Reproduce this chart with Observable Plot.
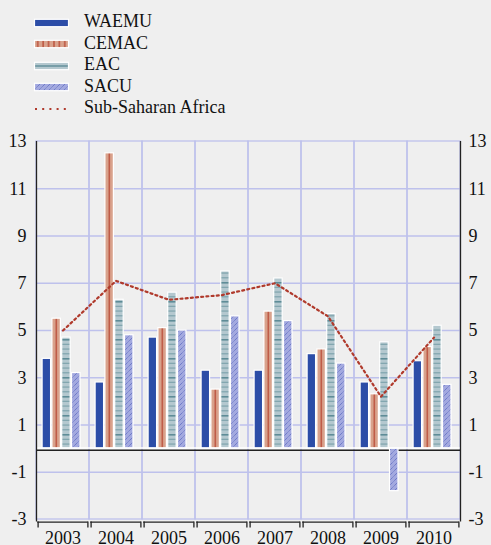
<!DOCTYPE html>
<html><head><meta charset="utf-8">
<script src="https://cdn.jsdelivr.net/npm/d3@7"></script>
<script src="https://cdn.jsdelivr.net/npm/@observablehq/plot@0.6"></script>
<style>
body{margin:0;background:#efefef;font-family:"Liberation Serif","Times New Roman",serif;}
#wrap{position:relative;width:491px;height:545px;overflow:hidden;background:#efefef}
#legend{position:absolute;left:0;top:0;width:491px;height:130px}
#legend svg{position:absolute;left:33px}
#legend span{position:absolute;left:84px;font-size:18px;line-height:20px;color:#111;white-space:nowrap}
#chart{position:absolute;left:0;top:130px}
</style></head><body>
<div id="wrap"><div id="legend"></div><div id="chart"></div></div>
<script>
// ---- data ----
const years = ["2003","2004","2005","2006","2007","2008","2009","2010"];
const waemu = [3.8, 2.8, 4.7, 3.3, 3.3, 4.0, 2.8, 3.7];
const cemac = [5.5, 12.5, 5.1, 2.5, 5.8, 4.2, 2.3, 4.3];
const eac   = [4.7, 6.3, 6.6, 7.5, 7.2, 5.7, 4.5, 5.2];
const sacu  = [3.2, 4.8, 5.0, 5.6, 5.4, 3.6, -1.8, 2.7];
const ssa   = [5.0, 7.1, 6.3, 6.5, 7.0, 5.6, 2.2, 4.7];
const seriesNames = ["WAEMU", "CEMAC", "EAC", "SACU"];
const lineName = "Sub-Saharan Africa";
const yTicks = [-3, -1, 1, 3, 5, 7, 9, 11, 13];

// ---- styles ----
const grid = "#BEC1EC";
const axisColor = "#222";
const lineColor = "#B03A2C";
const fills = {WAEMU: "#2C4DA7", CEMAC: "url(#p-cemac)", EAC: "url(#p-eac)", SACU: "url(#p-sacu)"};

const valuesBySeries = {WAEMU: waemu, CEMAC: cemac, EAC: eac, SACU: sacu};
const rows = [];
years.forEach((yr, i) => seriesNames.forEach(s => rows.push({year: yr, series: s, value: valuesBySeries[s][i]})));
const lineRows = years.map((yr, i) => ({year: yr, value: ssa[i]}));

const W = 491, H = 415, ml = 36, mr = 31, mt = 11, mb = 26;
const bw = (W - ml - mr) / years.length;
const barW = bw * 0.16, step = bw * 0.185, off0 = bw * 0.115;

const barMarks = seriesNames.map((name, i) => Plot.barY(rows.filter(r => r.series === name), {
  x: "year", y: "value", fill: fills[name], stroke: "white", strokeWidth: 1.2,
  insetLeft: off0 + i * step, insetRight: bw - (off0 + i * step + barW)
}));

const plot = Plot.plot({
  width: W, height: H,
  marginLeft: ml, marginRight: mr, marginTop: mt, marginBottom: mb,
  x: {domain: years, padding: 0},
  y: {domain: [-3, 13]},
  style: {background: "transparent", fontFamily: "'Liberation Serif', 'Times New Roman', serif", fontSize: "18px", color: "#111", overflow: "visible"},
  marks: [
    Plot.barY(years, {x: d => d, y1: -3, y2: 13, fill: "none", stroke: grid, strokeWidth: 1.3}),
    Plot.ruleY(yTicks.filter(t => t > -3 && t < 13), {stroke: grid, strokeWidth: 1.3}),
    Plot.ruleY([0], {stroke: axisColor, strokeWidth: 1.4, dy: 1.6}),
    ...barMarks,
    Plot.ruleY([0], {stroke: "white", strokeWidth: 1.4, dy: -0.6}),
    Plot.line(lineRows, {x: "year", y: "value", stroke: lineColor, strokeWidth: 2.2, strokeDasharray: "2 3.2"}),
    // frame axes
    Plot.ruleX([years[0]], {x: d => d, y1: 13, y2: -3.11, dx: -bw / 2, stroke: axisColor, strokeWidth: 1.3}),
    Plot.ruleX([years[years.length - 1]], {x: d => d, y1: 13, y2: -3.11, dx: bw / 2, stroke: axisColor, strokeWidth: 1.3}),
    Plot.tickY(years, {x: d => d, y: -3, dy: 2.6, insetLeft: 1.2, insetRight: 1.2, stroke: axisColor, strokeWidth: 1.3}),
    Plot.ruleX(years, {x: d => d, y1: -3.11, y2: -3.36, dx: -bw / 2 + 1.6, stroke: axisColor, strokeWidth: 1.3}),
    Plot.ruleX(years, {x: d => d, y1: -3.11, y2: -3.36, dx: bw / 2 - 1.6, stroke: axisColor, strokeWidth: 1.3}),
    Plot.axisY({anchor: "left", ticks: yTicks, tickSize: 0, tickPadding: 10, tickFormat: d => String(d), label: null}),
    Plot.axisY({anchor: "right", ticks: yTicks, tickSize: 0, tickPadding: 8, tickFormat: d => String(d), label: null}),
    Plot.axisX({tickSize: 0, tickPadding: 12, label: null})
  ]
});

// patterns
const defs = d3.select(plot).insert("defs", ":first-child");
const pc = defs.append("pattern").attr("id", "p-cemac").attr("patternUnits", "objectBoundingBox")
  .attr("patternContentUnits", "objectBoundingBox").attr("width", 1).attr("height", 1);
pc.append("rect").attr("width", 1).attr("height", 1).attr("fill", "#D9A28C");
pc.append("rect").attr("x", 0.44).attr("width", 0.13).attr("height", 1).attr("fill", "#B23A26");
const pe = defs.append("pattern").attr("id", "p-eac").attr("patternUnits", "userSpaceOnUse")
  .attr("width", 10).attr("height", 19);
pe.append("rect").attr("width", 10).attr("height", 19).attr("fill", "#B4C8CF");
[0, 4.75, 9.5, 14.25].forEach((y, k) => pe.append("rect").attr("y", y).attr("width", 10)
  .attr("height", k === 0 ? 1.6 : 1.1).attr("fill", k === 0 ? "#5E8C97" : "#7AA0AA"));
const ps = defs.append("pattern").attr("id", "p-sacu").attr("patternUnits", "userSpaceOnUse")
  .attr("width", 5).attr("height", 5);
ps.append("rect").attr("width", 5).attr("height", 5).attr("fill", "#A3A9DF");
ps.append("path").attr("d", "M0,5 L5,0 M-1,1 L1,-1 M4,6 L6,4").attr("stroke", "#4656B8")
  .attr("stroke-width", 0.8).attr("stroke-dasharray", "1 0.8");
document.getElementById("chart").appendChild(plot);

// legend
const legend = d3.select("#legend");
const items = [...seriesNames, lineName];
items.forEach((name, k) => {
  const baseline = 27.3 + k * 21.5;
  const cy = baseline - 4.4;
  const svg = legend.append("svg").attr("width", 37).attr("height", 12).style("top", (cy - 6) + "px");
  const d = svg.append("defs");
  if (name === lineName) {
    svg.append("line").attr("x1", 2).attr("x2", 36).attr("y1", 6).attr("y2", 6)
      .attr("stroke", lineColor).attr("stroke-width", 2.2).attr("stroke-dasharray", "2 5.2");
  } else {
    let fill = fills[name];
    if (name === "CEMAC") {
      const p = d.append("pattern").attr("id", "lg-cemac").attr("patternUnits", "userSpaceOnUse").attr("width", 5.4).attr("height", 10).attr("x", 2);
      p.append("rect").attr("width", 5.4).attr("height", 10).attr("fill", "#D9A28C");
      p.append("rect").attr("x", 2.2).attr("width", 1.1).attr("height", 10).attr("fill", "#B23A26");
      fill = "url(#lg-cemac)";
    } else if (name === "EAC") {
      const p = d.append("pattern").attr("id", "lg-eac").attr("patternUnits", "userSpaceOnUse").attr("width", 10).attr("height", 12);
      p.append("rect").attr("width", 10).attr("height", 12).attr("fill", "#B4C8CF");
      p.append("rect").attr("y", 5.3).attr("width", 10).attr("height", 1.4).attr("fill", "#5E8C97");
      fill = "url(#lg-eac)";
    } else if (name === "SACU") {
      const p = d.append("pattern").attr("id", "lg-sacu").attr("patternUnits", "userSpaceOnUse").attr("width", 5).attr("height", 5);
      p.append("rect").attr("width", 5).attr("height", 5).attr("fill", "#A3A9DF");
      p.append("path").attr("d", "M0,5 L5,0 M-1,1 L1,-1 M4,6 L6,4").attr("stroke", "#4656B8")
        .attr("stroke-width", 0.8).attr("stroke-dasharray", "1 0.8");
      fill = "url(#lg-sacu)";
    }
    svg.append("rect").attr("x", 1.5).attr("y", 2.3).attr("width", 34).attr("height", 7.4)
      .attr("fill", fill).attr("stroke", "white").attr("stroke-width", 1.2);
  }
  legend.append("span").text(name).style("top", (baseline - 16) + "px");
});
</script>
</body></html>
